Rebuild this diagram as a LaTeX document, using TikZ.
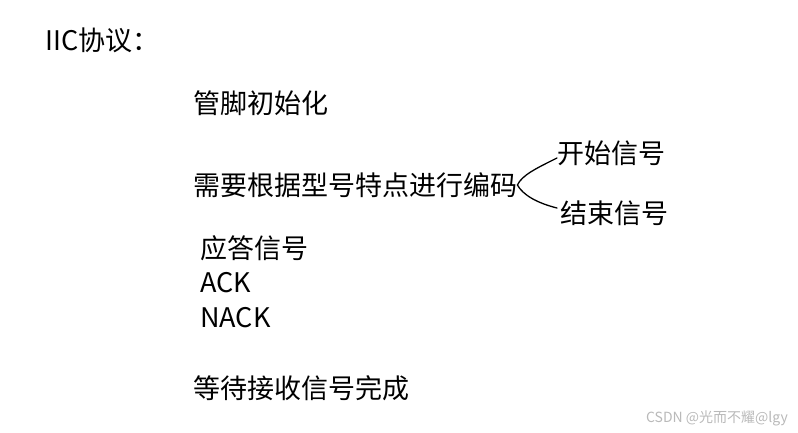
\documentclass[tikz,border=0pt]{standalone}
\usepackage{fontspec}
\setmainfont{Noto Sans CJK SC}
\begin{document}
\begin{tikzpicture}[x=1pt,y=-1pt,
  every node/.style={font=\fontsize{27}{31}\selectfont,inner sep=0pt,anchor=west},
  bracecurve/.style={line width=1.3pt,line cap=round}]
\useasboundingbox (0,0) rectangle (798,432);
% title
\node (title) at (45,40) {IIC协议：};
% steps
\node (pins) at (193,103) {管脚初始化};
\node (encode) at (193,185) {需要根据型号特点进行编码};
\node (start) at (557,153) {开始信号};
\node (stop) at (560,213) {结束信号};
\node (ackhead) at (200,248) {应答信号};
\node (ack) at (200,283) {ACK};
\node (nack) at (200,318) {NACK};
\node (wait) at (193,388) {等待接收信号完成};
% branch
\draw[bracecurve] ([yshift=-5pt]start.west) .. controls (537,168) and (522,175) .. (encode.east)
  .. controls (523,195) and (537,203) .. ([shift={(-3pt,5pt)}]stop.west);
% watermark
\node[font=\fontsize{14}{16}\selectfont,text=gray!55,anchor=east] (mark) at (788,418) {CSDN @光而不耀@lgy};
\end{tikzpicture}
\end{document}
